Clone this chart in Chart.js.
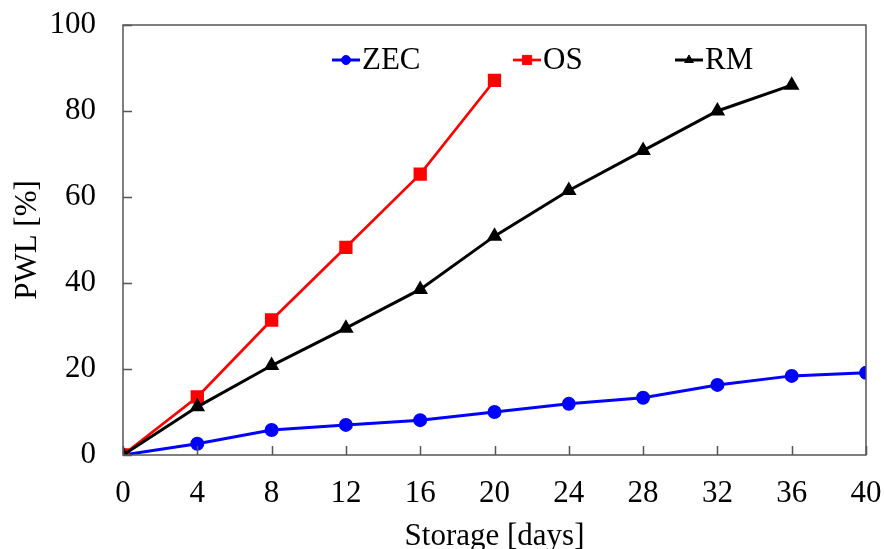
<!DOCTYPE html>
<html>
<head>
<meta charset="utf-8">
<script src="https://cdn.jsdelivr.net/npm/chart.js@4"></script>
<style>
  html, body { margin: 0; padding: 0; background: #fff; }
  #wrap { width: 885px; height: 549px; }
</style>
</head>
<body>
<div id="wrap"><canvas id="pwlChart" width="885" height="549"></canvas></div>
<script>
// storage days and PWL values
const days = [0, 4, 8, 12, 16, 20, 24, 28, 32, 36, 40];
const zecValues = [0, 2.6, 5.8, 7.0, 8.1, 10.0, 11.9, 13.3, 16.3, 18.4, 19.1];
const osValues = [0, 13.5, 31.4, 48.3, 65.3, 87.1];
const rmValues = [0, 11.2, 20.8, 29.5, 38.5, 50.9, 61.5, 70.8, 80.0, 86.0];
const xTicks = [0, 4, 8, 12, 16, 20, 24, 28, 32, 36, 40];
const yTicks = [0, 20, 40, 60, 80, 100];

const serif = "'Liberation Serif', 'Times New Roman', serif";
const fontSize = 31;

function toPoints(values) {
    return values.map((v, i) => ({ x: days[i], y: v }));
}

// frame + inward ticks
const framePlugin = {
    id: "frame",
    afterDatasetsDraw(chart) {
        const { ctx, chartArea: a, scales } = chart;
        ctx.save();
        ctx.strokeStyle = "#555";
        ctx.lineWidth = 1.5;
        ctx.strokeRect(a.left, a.top, a.right - a.left, a.bottom - a.top);
        ctx.beginPath();
        xTicks.forEach(t => {
            const px = Math.round(scales.x.getPixelForValue(t)) + 0.5;
            ctx.moveTo(px, a.bottom);
            ctx.lineTo(px, a.bottom - 9);
        });
        yTicks.forEach(t => {
            const py = Math.round(scales.y.getPixelForValue(t)) + 0.5;
            ctx.moveTo(a.left, py);
            ctx.lineTo(a.left + 9, py);
        });
        ctx.stroke();
        ctx.restore();
    }
};

// legend drawn inside the plot, along the top
const legendPlugin = {
    id: "innerLegend",
    afterDraw(chart) {
        const c = chart.ctx;
        const items = [{ ds: 0, x: 332 }, { ds: 1, x: 513 }, { ds: 2, x: 675 }];
        const y = 60;
        items.forEach(it => {
            const ds = chart.data.datasets[it.ds];
            c.save();
            c.strokeStyle = ds.borderColor;
            c.lineWidth = ds.borderWidth;
            c.beginPath();
            c.moveTo(it.x, y);
            c.lineTo(it.x + 28, y);
            c.stroke();
            c.fillStyle = ds.backgroundColor;
            c.lineWidth = 1;
            Chart.helpers.drawPoint(c, {
                pointStyle: ds.pointStyle,
                radius: ds.pointRadius - 1,
                rotation: 0,
                borderWidth: 1
            }, it.x + 14, y);
            c.fillStyle = "#000";
            c.font = fontSize + "px " + serif;
            c.textBaseline = "middle";
            c.textAlign = "left";
            c.fillText(ds.label, it.x + 30, y + 1);
            c.restore();
        });
    }
};

const ctx = document.getElementById("pwlChart").getContext("2d");

new Chart(ctx, {
    type: "line",
    data: {
        datasets: [{
            label: "ZEC",
            data: toPoints(zecValues),
            borderColor: "#0000ff",
            backgroundColor: "#0000ff",
            borderWidth: 3,
            pointStyle: "circle",
            pointRadius: 5.5,
            order: 2
        }, {
            label: "OS",
            data: toPoints(osValues),
            borderColor: "#ff0000",
            backgroundColor: "#ff0000",
            borderWidth: 2.7,
            pointStyle: "rect",
            pointRadius: 7.5,
            order: 1
        }, {
            label: "RM",
            data: toPoints(rmValues),
            borderColor: "#000000",
            backgroundColor: "#000000",
            borderWidth: 3,
            pointStyle: "triangle",
            pointRadius: 6,
            order: 0
        }]
    },
    options: {
        responsive: false,
        animation: false,
        layout: { padding: { top: 25, right: 19, left: 0, bottom: 0 } },
        scales: {
            x: {
                type: "linear",
                min: 0,
                max: 40,
                afterBuildTicks: s => { s.ticks = xTicks.map(v => ({ value: v })); },
                afterFit: s => {
                    s.height = 94;
                    s.paddingLeft = 0;
                    s.paddingRight = 0;
                },
                grid: { display: false, drawTicks: false },
                border: { display: false },
                ticks: {
                    color: "#000",
                    padding: 20,
                    maxRotation: 0,
                    font: { family: serif, size: fontSize }
                },
                title: {
                    display: true,
                    text: "Storage [days]",
                    color: "#000",
                    font: { family: serif, size: fontSize, lineHeight: 1 },
                    padding: { top: 0, bottom: -3 }
                }
            },
            y: {
                min: 0,
                max: 100,
                afterBuildTicks: s => { s.ticks = yTicks.map(v => ({ value: v })); },
                afterFit: s => {
                    s.width = 123;
                    s.paddingTop = 0;
                    s.paddingBottom = 0;
                },
                grid: { display: false, drawTicks: false },
                border: { display: false },
                ticks: {
                    color: "#000",
                    padding: 27,
                    font: { family: serif, size: fontSize }
                },
                title: {
                    display: true,
                    text: "PWL [%]",
                    color: "#000",
                    font: { family: serif, size: fontSize, lineHeight: 1 },
                    padding: { top: 12, bottom: 0 }
                }
            }
        },
        plugins: {
            legend: { display: false },
            tooltip: { enabled: false }
        }
    },
    plugins: [framePlugin, legendPlugin]
});
</script>
</body>
</html>
